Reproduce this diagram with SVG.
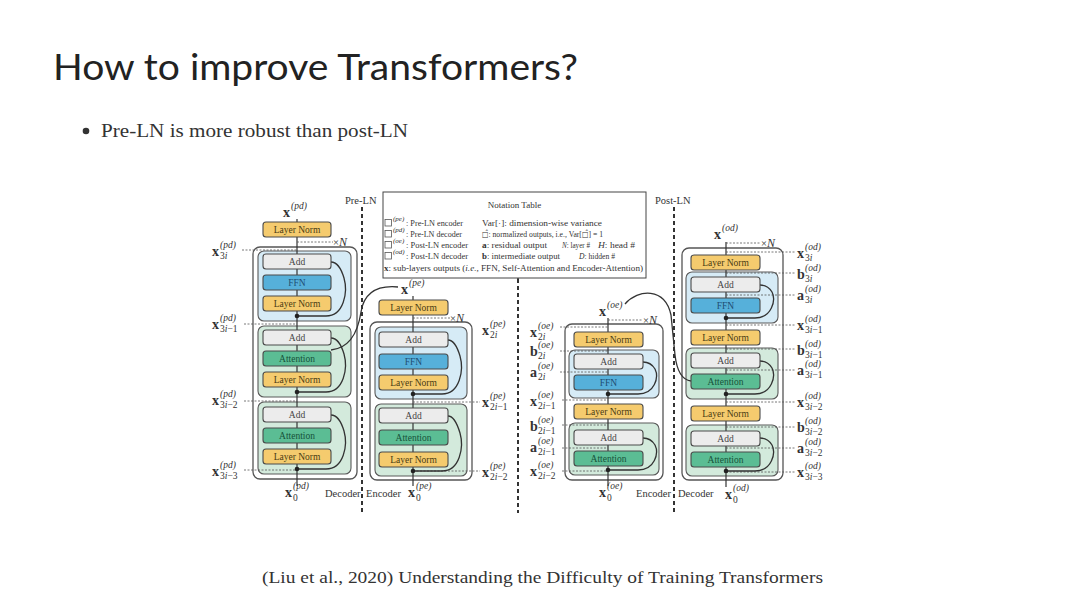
<svg xmlns="http://www.w3.org/2000/svg" width="1080" height="607" viewBox="0 0 1080 607">
<style>
.ttl{font-family:Lato,"Open Sans",sans-serif;font-size:37px;fill:#222}
.body{font-family:"Liberation Serif",serif;fill:#333}
.ob{fill:#fff;stroke:#555;stroke-width:1.3}
.bb{fill:#d6ebf6;stroke:#5a5a5a;stroke-width:1.1}
.gb{fill:#d3eadc;stroke:#5a5a5a;stroke-width:1.1}
.ln{fill:#f5cb6e;stroke:#4a4a4a;stroke-width:1.1}
.add{fill:#ececec;stroke:#4a4a4a;stroke-width:1.1}
.ffn{fill:#56b0da;stroke:#4a4a4a;stroke-width:1.1}
.att{fill:#5bbd94;stroke:#4a4a4a;stroke-width:1.1}
.bt{font-family:"Liberation Serif",serif;font-size:9.5px;text-anchor:middle}
.tln{fill:#4a3b12}.tadd{fill:#444}.tffn{fill:#1e4d73}.tatt{fill:#16523a}
.vl{stroke:#333;stroke-width:1.2;fill:none}
.dl{stroke:#555;stroke-width:0.8;stroke-dasharray:2 1.5;fill:none}
.dv{stroke:#333;stroke-width:2;stroke-dasharray:4 3;fill:none}
.rc{stroke:#333;stroke-width:1.3;fill:none}
.dot{fill:#222}
.mb{font-family:"Liberation Serif",serif;font-size:14px;font-weight:bold;fill:#333}
.ms{font-family:"Liberation Serif",serif;font-size:9.5px;fill:#333}
.mi{font-style:italic}
.sm{font-family:"Liberation Serif",serif;font-size:10.5px;fill:#333}
.nt{font-family:"Liberation Serif",serif;font-size:9px;fill:#333}
.sqr{fill:#fff;stroke:#555;stroke-width:0.8}
.ns{font-family:"Liberation Serif",serif;font-size:7px;font-style:italic;fill:#333}
.sym{font-family:"DejaVu Sans",sans-serif;font-size:8px}
</style>

<text class="ttl" x="53" y="80" textLength="525" lengthAdjust="spacingAndGlyphs">How to improve Transformers?</text>
<circle cx="86" cy="131" r="3.3" fill="#333"/>
<text class="body" x="101" y="137" font-size="19" textLength="307" lengthAdjust="spacingAndGlyphs">Pre-LN is more robust than post-LN</text>
<text class="body" x="262" y="583" font-size="17" textLength="561" lengthAdjust="spacingAndGlyphs">(Liu et al., 2020) Understanding the Difficulty of Training Transformers</text>

<!-- frames -->
<g id="frames">
  <rect class="ob" x="253" y="247" width="104" height="232" rx="7"/>
  <rect class="bb" x="258" y="251" width="93" height="70" rx="6"/>
  <rect class="gb" x="258" y="326" width="93" height="71" rx="6"/>
  <rect class="gb" x="258" y="402" width="93" height="72" rx="6"/>

  <rect class="ob" x="370" y="322" width="102" height="158" rx="7"/>
  <rect class="bb" x="375" y="327" width="92" height="72" rx="6"/>
  <rect class="gb" x="375" y="404" width="92" height="72" rx="6"/>

  <rect class="ob" x="565" y="324" width="98" height="156" rx="7"/>
  <rect class="bb" x="569" y="350" width="90" height="48" rx="6"/>
  <rect class="gb" x="569" y="423" width="90" height="52" rx="6"/>

  <rect class="ob" x="682" y="248" width="101" height="232" rx="7"/>
  <rect class="bb" x="686" y="272" width="92" height="51" rx="6"/>
  <rect class="gb" x="686" y="348" width="92" height="51" rx="6"/>
  <rect class="gb" x="686" y="425" width="92" height="51" rx="6"/>
</g>

<!-- connectors -->
<g id="connectors">
  <line class="dv" x1="362" y1="207" x2="362" y2="513"/>
  <line class="dv" x1="518" y1="279" x2="518" y2="513"/>
  <line class="dv" x1="674" y1="207" x2="674" y2="513"/>

  <line class="vl" x1="297" y1="219" x2="297" y2="486"/>
  <line class="vl" x1="413" y1="296" x2="413" y2="486"/>
  <line class="vl" x1="608" y1="318" x2="608" y2="486"/>
  <line class="vl" x1="726" y1="242" x2="726" y2="487"/>

  <line class="dl" x1="297" y1="242" x2="333" y2="242"/>
  <line class="dl" x1="242" y1="250" x2="297" y2="250"/>
  <line class="dl" x1="244" y1="324" x2="297" y2="324"/>
  <line class="dl" x1="244" y1="401" x2="297" y2="401"/>
  <line class="dl" x1="244" y1="470" x2="297" y2="470"/>

  <line class="dl" x1="413" y1="318" x2="450" y2="318"/>
  <line class="dl" x1="413" y1="402" x2="480" y2="402"/>
  <line class="dl" x1="413" y1="471" x2="480" y2="471"/>

  <line class="dl" x1="608" y1="320" x2="643" y2="320"/>
  <line class="dl" x1="560" y1="327" x2="608" y2="327"/>
  <line class="dl" x1="560" y1="351" x2="608" y2="351"/>
  <line class="dl" x1="560" y1="372" x2="608" y2="372"/>
  <line class="dl" x1="562" y1="400" x2="608" y2="400"/>
  <line class="dl" x1="562" y1="425" x2="608" y2="425"/>
  <line class="dl" x1="562" y1="448" x2="608" y2="448"/>
  <line class="dl" x1="562" y1="471" x2="608" y2="471"/>

  <line class="dl" x1="726" y1="243" x2="760" y2="243"/>
  <line class="dl" x1="726" y1="252" x2="795" y2="252"/>
  <line class="dl" x1="726" y1="273" x2="795" y2="273"/>
  <line class="dl" x1="726" y1="295" x2="795" y2="295"/>
  <line class="dl" x1="726" y1="325" x2="795" y2="325"/>
  <line class="dl" x1="726" y1="349" x2="795" y2="349"/>
  <line class="dl" x1="726" y1="370" x2="795" y2="370"/>
  <line class="dl" x1="726" y1="402" x2="795" y2="402"/>
  <line class="dl" x1="726" y1="427" x2="795" y2="427"/>
  <line class="dl" x1="726" y1="448" x2="795" y2="448"/>
  <line class="dl" x1="726" y1="472" x2="795" y2="472"/>

  <path class="rc" d="M297 316 H326 C344 316 348 292 344 278 C341 268 337 262 331 262"/>
  <path class="rc" d="M297 392 H326 C344 392 348 368 344 354 C341 344 337 338 331 338"/>
  <path class="rc" d="M297 469 H326 C344 469 348 445 344 431 C341 421 337 415 331 415"/>
  <path class="rc" d="M413 394 H442 C460 394 464 370 460 356 C457 346 453 340 448 340"/>
  <path class="rc" d="M413 471 H442 C460 471 464 447 460 433 C457 423 453 416 448 416"/>
  <path class="rc" d="M608 394 H638 C655 394 659 377 655 369 C652 364 648 362 643 362"/>
  <path class="rc" d="M608 470 H638 C655 470 659 453 655 445 C652 440 648 438 643 438"/>
  <path class="rc" d="M726 318 H755 C772 318 776 300 772 292 C769 287 765 285 760 285"/>
  <path class="rc" d="M726 394 H755 C772 394 776 376 772 368 C769 363 765 361 760 361"/>
  <path class="rc" d="M726 471 H755 C772 471 776 453 772 445 C769 440 765 438 760 438"/>

  <path class="rc" d="M331 350 C350 348 358 332 361 312 C364 293 376 285 398 287"/>
  <path class="rc" d="M625 304 C638 289 665 287 671 315 L675 355 C677 372 682 380 691 381"/>

  <circle class="dot" cx="297" cy="316" r="2.3"/>
  <circle class="dot" cx="297" cy="392" r="2.3"/>
  <circle class="dot" cx="297" cy="469" r="2.3"/>
  <circle class="dot" cx="413" cy="394" r="2.3"/>
  <circle class="dot" cx="413" cy="471" r="2.3"/>
  <circle class="dot" cx="608" cy="394" r="2.3"/>
  <circle class="dot" cx="608" cy="470" r="2.3"/>
  <circle class="dot" cx="726" cy="318" r="2.3"/>
  <circle class="dot" cx="726" cy="394" r="2.3"/>
  <circle class="dot" cx="726" cy="471" r="2.3"/>
</g>

<!-- Pre-LN decoder nodes -->
<g id="pd-ln0"><rect class="ln" x="263" y="222" width="68" height="15" rx="3"/><text class="bt tln" x="297" y="233">Layer Norm</text></g>
<g id="pd-add1"><rect class="add" x="263" y="254" width="68" height="15" rx="3"/><text class="bt tadd" x="297" y="265">Add</text></g>
<g id="pd-ffn1"><rect class="ffn" x="263" y="275" width="68" height="15" rx="3"/><text class="bt tffn" x="297" y="286">FFN</text></g>
<g id="pd-ln1"><rect class="ln" x="263" y="296" width="68" height="15" rx="3"/><text class="bt tln" x="297" y="307">Layer Norm</text></g>
<g id="pd-add2"><rect class="add" x="263" y="330" width="68" height="15" rx="3"/><text class="bt tadd" x="297" y="341">Add</text></g>
<g id="pd-att2"><rect class="att" x="263" y="351" width="68" height="15" rx="3"/><text class="bt tatt" x="297" y="362">Attention</text></g>
<g id="pd-ln2"><rect class="ln" x="263" y="372" width="68" height="15" rx="3"/><text class="bt tln" x="297" y="383">Layer Norm</text></g>
<g id="pd-add3"><rect class="add" x="263" y="407" width="68" height="15" rx="3"/><text class="bt tadd" x="297" y="418">Add</text></g>
<g id="pd-att3"><rect class="att" x="263" y="428" width="68" height="15" rx="3"/><text class="bt tatt" x="297" y="439">Attention</text></g>
<g id="pd-ln3"><rect class="ln" x="263" y="449" width="68" height="15" rx="3"/><text class="bt tln" x="297" y="460">Layer Norm</text></g>

<!-- Pre-LN encoder nodes -->
<g id="pe-ln0"><rect class="ln" x="379" y="300" width="69" height="15" rx="3"/><text class="bt tln" x="413.5" y="311">Layer Norm</text></g>
<g id="pe-add1"><rect class="add" x="379" y="332" width="69" height="15" rx="3"/><text class="bt tadd" x="413.5" y="343">Add</text></g>
<g id="pe-ffn1"><rect class="ffn" x="379" y="354" width="69" height="15" rx="3"/><text class="bt tffn" x="413.5" y="365">FFN</text></g>
<g id="pe-ln1"><rect class="ln" x="379" y="375" width="69" height="15" rx="3"/><text class="bt tln" x="413.5" y="386">Layer Norm</text></g>
<g id="pe-add2"><rect class="add" x="379" y="408" width="69" height="15" rx="3"/><text class="bt tadd" x="413.5" y="419">Add</text></g>
<g id="pe-att2"><rect class="att" x="379" y="430" width="69" height="15" rx="3"/><text class="bt tatt" x="413.5" y="441">Attention</text></g>
<g id="pe-ln2"><rect class="ln" x="379" y="452" width="69" height="15" rx="3"/><text class="bt tln" x="413.5" y="463">Layer Norm</text></g>

<!-- Post-LN encoder nodes -->
<g id="oe-ln0"><rect class="ln" x="574" y="332" width="69" height="15" rx="3"/><text class="bt tln" x="608.5" y="343">Layer Norm</text></g>
<g id="oe-add1"><rect class="add" x="574" y="354" width="69" height="15" rx="3"/><text class="bt tadd" x="608.5" y="365">Add</text></g>
<g id="oe-ffn1"><rect class="ffn" x="574" y="375" width="69" height="15" rx="3"/><text class="bt tffn" x="608.5" y="386">FFN</text></g>
<g id="oe-ln1"><rect class="ln" x="574" y="404" width="69" height="15" rx="3"/><text class="bt tln" x="608.5" y="415">Layer Norm</text></g>
<g id="oe-add2"><rect class="add" x="574" y="430" width="69" height="15" rx="3"/><text class="bt tadd" x="608.5" y="441">Add</text></g>
<g id="oe-att2"><rect class="att" x="574" y="451" width="69" height="15" rx="3"/><text class="bt tatt" x="608.5" y="462">Attention</text></g>

<!-- Post-LN decoder nodes -->
<g id="od-ln0"><rect class="ln" x="691" y="255" width="69" height="15" rx="3"/><text class="bt tln" x="725.5" y="266">Layer Norm</text></g>
<g id="od-add1"><rect class="add" x="691" y="277" width="69" height="15" rx="3"/><text class="bt tadd" x="725.5" y="288">Add</text></g>
<g id="od-ffn1"><rect class="ffn" x="691" y="298" width="69" height="15" rx="3"/><text class="bt tffn" x="725.5" y="309">FFN</text></g>
<g id="od-ln1"><rect class="ln" x="691" y="330" width="69" height="15" rx="3"/><text class="bt tln" x="725.5" y="341">Layer Norm</text></g>
<g id="od-add2"><rect class="add" x="691" y="353" width="69" height="15" rx="3"/><text class="bt tadd" x="725.5" y="364">Add</text></g>
<g id="od-att2"><rect class="att" x="691" y="374" width="69" height="15" rx="3"/><text class="bt tatt" x="725.5" y="385">Attention</text></g>
<g id="od-ln2"><rect class="ln" x="691" y="406" width="69" height="15" rx="3"/><text class="bt tln" x="725.5" y="417">Layer Norm</text></g>
<g id="od-add3"><rect class="add" x="691" y="431" width="69" height="15" rx="3"/><text class="bt tadd" x="725.5" y="442">Add</text></g>
<g id="od-att3"><rect class="att" x="691" y="452" width="69" height="15" rx="3"/><text class="bt tatt" x="725.5" y="463">Attention</text></g>

<!-- section labels -->
<g id="section-labels">
  <text class="sm" x="345" y="204">Pre-LN</text>
  <text class="sm" x="655" y="204">Post-LN</text>
  <text class="sm" x="325" y="497">Decoder</text>
  <text class="sm" x="366" y="497">Encoder</text>
  <text class="sm" x="636" y="497">Encoder</text>
  <text class="sm" x="678" y="497">Decoder</text>
  <text class="sm" x="333" y="246">×<tspan class="mi" font-size="12">N</tspan></text>
  <text class="sm" x="450" y="322">×<tspan class="mi" font-size="12">N</tspan></text>
  <text class="sm" x="643" y="324">×<tspan class="mi" font-size="12">N</tspan></text>
  <text class="sm" x="761" y="247">×<tspan class="mi" font-size="12">N</tspan></text>
</g>

<!-- math labels -->
<g id="math-labels">
  <text class="mb" x="283" y="217">x</text><text class="ms mi" x="291" y="209">(pd)</text>
  <text class="mb" x="212" y="256">x</text><text class="ms mi" x="220" y="248">(pd)</text><text class="ms" x="220" y="259">3<tspan class="mi">i</tspan></text>
  <text class="mb" x="212" y="329">x</text><text class="ms mi" x="220" y="321">(pd)</text><text class="ms" x="220" y="332">3<tspan class="mi">i</tspan>−1</text>
  <text class="mb" x="212" y="405">x</text><text class="ms mi" x="220" y="397">(pd)</text><text class="ms" x="220" y="408">3<tspan class="mi">i</tspan>−2</text>
  <text class="mb" x="212" y="476">x</text><text class="ms mi" x="220" y="468">(pd)</text><text class="ms" x="220" y="479">3<tspan class="mi">i</tspan>−3</text>
  <text class="mb" x="285" y="497">x</text><text class="ms mi" x="293" y="489">(pd)</text><text class="ms" x="293" y="501">0</text>

  <text class="mb" x="401" y="294">x</text><text class="ms mi" x="409" y="286">(pe)</text>
  <text class="mb" x="482" y="335">x</text><text class="ms mi" x="490" y="327">(pe)</text><text class="ms" x="490" y="338">2<tspan class="mi">i</tspan></text>
  <text class="mb" x="482" y="407">x</text><text class="ms mi" x="490" y="399">(pe)</text><text class="ms" x="490" y="410">2<tspan class="mi">i</tspan>−1</text>
  <text class="mb" x="482" y="477">x</text><text class="ms mi" x="490" y="469">(pe)</text><text class="ms" x="490" y="480">2<tspan class="mi">i</tspan>−2</text>
  <text class="mb" x="408" y="497">x</text><text class="ms mi" x="416" y="489">(pe)</text><text class="ms" x="416" y="501">0</text>

  <text class="mb" x="599" y="316">x</text><text class="ms mi" x="607" y="308">(oe)</text>
  <text class="mb" x="530" y="337">x</text><text class="ms mi" x="538" y="329">(oe)</text><text class="ms" x="538" y="340">2<tspan class="mi">i</tspan></text>
  <text class="mb" x="530" y="356">b</text><text class="ms mi" x="538" y="348">(oe)</text><text class="ms" x="538" y="359">2<tspan class="mi">i</tspan></text>
  <text class="mb" x="530" y="377">a</text><text class="ms mi" x="538" y="369">(oe)</text><text class="ms" x="538" y="380">2<tspan class="mi">i</tspan></text>
  <text class="mb" x="530" y="406">x</text><text class="ms mi" x="538" y="398">(oe)</text><text class="ms" x="538" y="409">2<tspan class="mi">i</tspan>−1</text>
  <text class="mb" x="530" y="431">b</text><text class="ms mi" x="538" y="423">(oe)</text><text class="ms" x="538" y="434">2<tspan class="mi">i</tspan>−1</text>
  <text class="mb" x="530" y="452">a</text><text class="ms mi" x="538" y="444">(oe)</text><text class="ms" x="538" y="455">2<tspan class="mi">i</tspan>−1</text>
  <text class="mb" x="530" y="476">x</text><text class="ms mi" x="538" y="468">(oe)</text><text class="ms" x="538" y="479">2<tspan class="mi">i</tspan>−2</text>
  <text class="mb" x="599" y="497">x</text><text class="ms mi" x="607" y="489">(oe)</text><text class="ms" x="607" y="501">0</text>

  <text class="mb" x="714" y="239">x</text><text class="ms mi" x="722" y="231">(od)</text>
  <text class="mb" x="797" y="258">x</text><text class="ms mi" x="805" y="250">(od)</text><text class="ms" x="805" y="261">3<tspan class="mi">i</tspan></text>
  <text class="mb" x="797" y="279">b</text><text class="ms mi" x="805" y="271">(od)</text><text class="ms" x="805" y="282">3<tspan class="mi">i</tspan></text>
  <text class="mb" x="797" y="300">a</text><text class="ms mi" x="805" y="292">(od)</text><text class="ms" x="805" y="303">3<tspan class="mi">i</tspan></text>
  <text class="mb" x="797" y="330">x</text><text class="ms mi" x="805" y="322">(od)</text><text class="ms" x="805" y="333">3<tspan class="mi">i</tspan>−1</text>
  <text class="mb" x="797" y="355">b</text><text class="ms mi" x="805" y="347">(od)</text><text class="ms" x="805" y="358">3<tspan class="mi">i</tspan>−1</text>
  <text class="mb" x="797" y="375">a</text><text class="ms mi" x="805" y="367">(od)</text><text class="ms" x="805" y="378">3<tspan class="mi">i</tspan>−1</text>
  <text class="mb" x="797" y="407">x</text><text class="ms mi" x="805" y="399">(od)</text><text class="ms" x="805" y="410">3<tspan class="mi">i</tspan>−2</text>
  <text class="mb" x="797" y="432">b</text><text class="ms mi" x="805" y="424">(od)</text><text class="ms" x="805" y="435">3<tspan class="mi">i</tspan>−2</text>
  <text class="mb" x="797" y="453">a</text><text class="ms mi" x="805" y="445">(od)</text><text class="ms" x="805" y="456">3<tspan class="mi">i</tspan>−2</text>
  <text class="mb" x="797" y="477">x</text><text class="ms mi" x="805" y="469">(od)</text><text class="ms" x="805" y="480">3<tspan class="mi">i</tspan>−3</text>
  <text class="mb" x="725" y="499">x</text><text class="ms mi" x="733" y="491">(od)</text><text class="ms" x="733" y="503">0</text>
</g>

<!-- Notation table -->
<g id="notation-table">
  <rect x="383" y="192" width="263" height="86" fill="#fff" stroke="#444" stroke-width="1"/>
  <line x1="518" y1="278" x2="518" y2="283" stroke="#333" stroke-width="1.5"/>
  <text class="nt" x="514.5" y="208" font-size="10.5" text-anchor="middle">Notation Table</text>

  <rect class="sqr" x="385" y="219.5" width="6.5" height="6.5"/><text class="ns" x="393" y="221">(pe)</text><text class="nt" x="406" y="226" textLength="57" lengthAdjust="spacingAndGlyphs">: Pre-LN encoder</text>
  <rect class="sqr" x="385" y="230.5" width="6.5" height="6.5"/><text class="ns" x="393" y="232">(pd)</text><text class="nt" x="406" y="237" textLength="56" lengthAdjust="spacingAndGlyphs">: Pre-LN decoder</text>
  <rect class="sqr" x="385" y="241.5" width="6.5" height="6.5"/><text class="ns" x="393" y="243">(oe)</text><text class="nt" x="406" y="248" textLength="62" lengthAdjust="spacingAndGlyphs">: Post-LN encoder</text>
  <rect class="sqr" x="385" y="252.5" width="6.5" height="6.5"/><text class="ns" x="393" y="254">(od)</text><text class="nt" x="406" y="259" textLength="62" lengthAdjust="spacingAndGlyphs">: Post-LN decoder</text>

  <text class="nt" x="482" y="226" textLength="120" lengthAdjust="spacingAndGlyphs">Var[·]: dimension-wise variance</text>
  <text class="nt" x="482" y="237" font-size="7.6" textLength="121" lengthAdjust="spacingAndGlyphs"><tspan class="sym">□̂</tspan>: normalized outputs, i.e., Var[<tspan class="sym">□̂</tspan>] = 1</text>
  <text class="nt" x="482" y="248" textLength="65" lengthAdjust="spacingAndGlyphs"><tspan font-weight="bold">a</tspan>: residual output</text>
  <text class="nt" x="562" y="248" textLength="28" lengthAdjust="spacingAndGlyphs"><tspan class="mi">N</tspan>: layer #</text>
  <text class="nt" x="598" y="248" textLength="37" lengthAdjust="spacingAndGlyphs"><tspan class="mi">H</tspan>: head #</text>
  <text class="nt" x="482" y="259" textLength="78" lengthAdjust="spacingAndGlyphs"><tspan font-weight="bold">b</tspan>: intermediate output</text>
  <text class="nt" x="579" y="259" textLength="36" lengthAdjust="spacingAndGlyphs"><tspan class="mi">D</tspan>: hidden #</text>
  <text class="nt" x="384" y="271" textLength="259" lengthAdjust="spacingAndGlyphs"><tspan font-weight="bold">x</tspan>: sub-layers outputs (<tspan class="mi">i.e.</tspan>, FFN, Self-Attention and Encoder-Attention)</text>
</g>
</svg>
